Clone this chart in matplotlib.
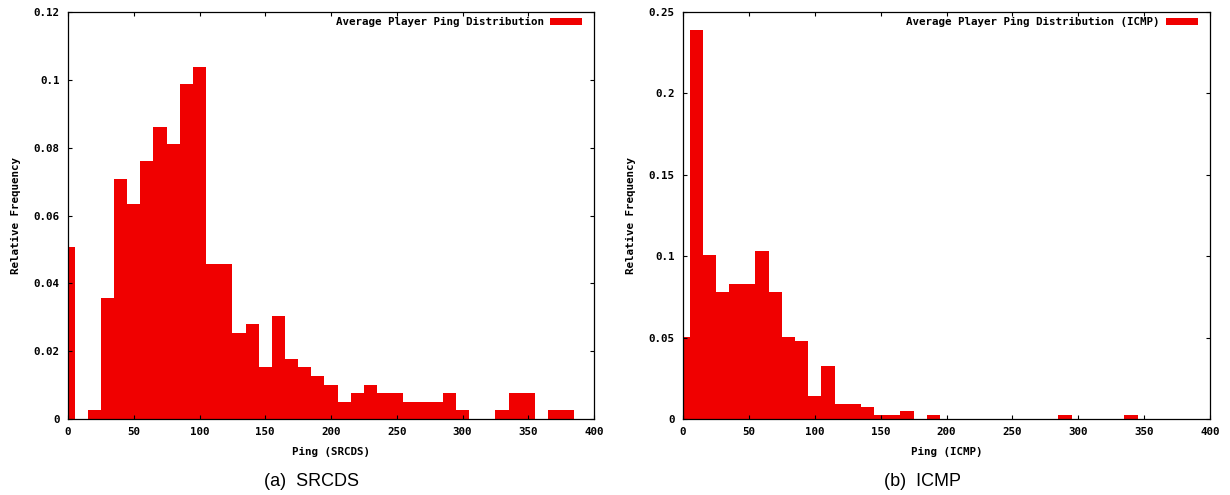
import numpy as np
import matplotlib
matplotlib.use("Agg")
import matplotlib.pyplot as plt

# bin centres (ms), width 10
bins = np.arange(0, 390, 10)

# relative frequency per bin - SRCDS reported ping
srcds = [0.0507, 0.0, 0.0026, 0.0356, 0.0709, 0.0634, 0.0760, 0.0861, 0.0811, 0.0988,
         0.1039, 0.0457, 0.0457, 0.0255, 0.0280, 0.0152, 0.0305, 0.0178, 0.0152, 0.0127,
         0.0101, 0.0051, 0.0076, 0.0101, 0.0076, 0.0076, 0.0051, 0.0051, 0.0051, 0.0076,
         0.0026, 0.0, 0.0, 0.0026, 0.0076, 0.0076, 0.0, 0.0026, 0.0026]

# relative frequency per bin - ICMP ping
icmp = [0.0504, 0.2387, 0.1009, 0.0780, 0.0827, 0.0827, 0.1034, 0.0780, 0.0506, 0.0481,
        0.0143, 0.0323, 0.0094, 0.0094, 0.0072, 0.0025, 0.0025, 0.0049, 0.0, 0.0025,
        0.0, 0.0, 0.0, 0.0, 0.0, 0.0, 0.0, 0.0, 0.0, 0.0025,
        0.0, 0.0, 0.0, 0.0, 0.0025, 0.0, 0.0, 0.0, 0.0]

mono = {"family": "DejaVu Sans Mono", "weight": "bold", "size": 7.8}

fig = plt.figure(figsize=(12.3, 4.95), dpi=100)


def panel(rect, values, ymax, yticks, ylabels, legend_txt, xlabel, caption, cap_x):
    ax = fig.add_axes(rect)
    bars = ax.bar(bins, values, width=10, color="#f00000", linewidth=0, align="center")
    ax.set_xlim(0, 400)
    ax.set_ylim(0, ymax)
    ax.set_xticks(range(0, 401, 50))
    ax.set_xticklabels([str(v) for v in range(0, 401, 50)], fontdict=mono)
    ax.set_yticks(yticks)
    ax.set_yticklabels(ylabels, fontdict=mono)
    ax.tick_params(direction="in", length=3, width=0.8, top=True, right=True,
                   pad=6, colors="black")
    for s in ax.spines.values():
        s.set_linewidth(0.9)
    ax.set_xlabel(xlabel, fontdict=mono, labelpad=7)
    ax.set_ylabel("Relative Frequency", fontdict=mono, labelpad=9)
    ax.legend([bars], [legend_txt], loc="upper right", bbox_to_anchor=(0.977, 0.987),
              frameon=False, markerfirst=False, handlelength=2.9, handleheight=0.5,
              handletextpad=0.6, borderaxespad=0, borderpad=0, prop=mono)
    fig.text(cap_x, 1 - 481 / 495, caption, ha="center", va="center",
             family="Liberation Sans", fontsize=13)
    return ax


panel([68 / 1230, 76 / 495, 526 / 1230, 407 / 495], srcds, 0.12,
      [0, 0.02, 0.04, 0.06, 0.08, 0.1, 0.12],
      ["0", "0.02", "0.04", "0.06", "0.08", "0.1", "0.12"],
      "Average Player Ping Distribution", "Ping (SRCDS)", "(a)  SRCDS", 311 / 1230)

panel([683 / 1230, 76 / 495, 527 / 1230, 407 / 495], icmp, 0.25,
      [0, 0.05, 0.1, 0.15, 0.2, 0.25],
      ["0", "0.05", "0.1", "0.15", "0.2", "0.25"],
      "Average Player Ping Distribution (ICMP)", "Ping (ICMP)", "(b)  ICMP", 923 / 1230)

fig.savefig("out.png", dpi=100)
